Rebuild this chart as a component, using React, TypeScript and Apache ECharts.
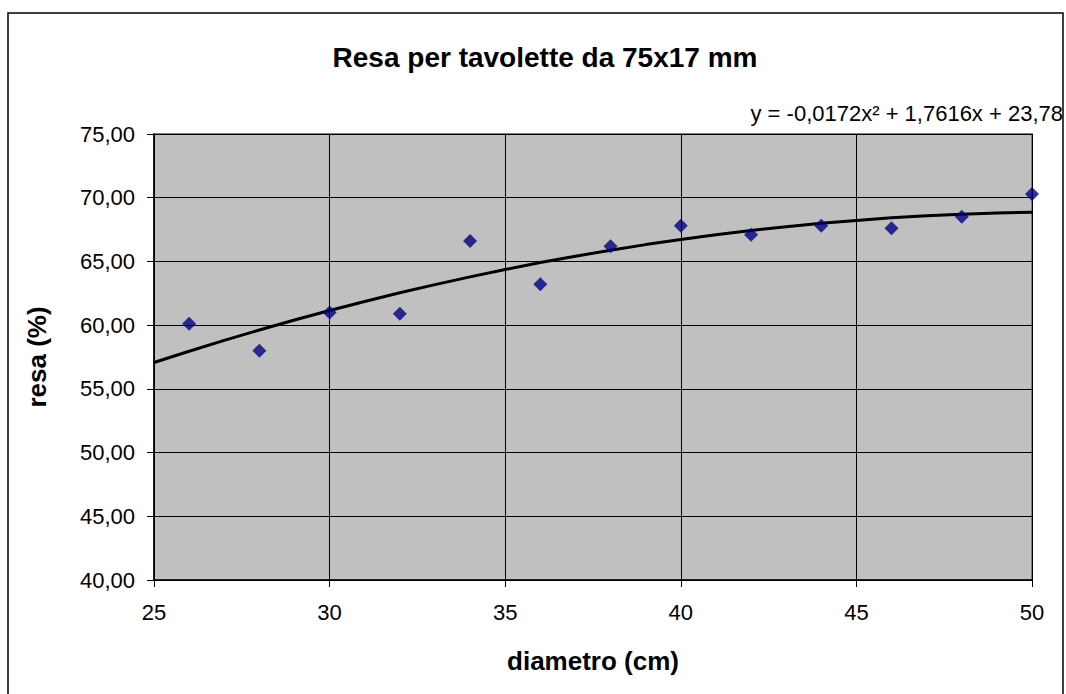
import React, { useEffect, useRef } from "react";
import * as echarts from "echarts";

const diameters = [26, 28, 30, 32, 34, 36, 38, 40, 42, 44, 46, 48, 50];
const resa = [60.1, 58.0, 61.0, 60.9, 66.6, 63.2, 66.2, 67.8, 67.1, 67.8, 67.6, 68.5, 70.3];

const trendX = [25, 26, 27, 28, 29, 30, 31, 32, 33, 34, 35, 36, 37, 38, 39, 40, 41, 42, 43, 44, 45, 46, 47, 48, 49, 50];
const trendY = [57.07, 57.95, 58.8, 59.62, 60.4, 61.15, 61.86, 62.54, 63.18, 63.79, 64.37, 64.91, 65.41, 65.88, 66.32, 66.72, 67.09, 67.43, 67.73, 67.99, 68.22, 68.42, 68.58, 68.71, 68.8, 68.86];

const titleText = "Resa per tavolette da 75x17 mm";
const equationText = "y = -0,0172x² + 1,7616x + 23,78";
const xName = "diametro (cm)";
const yName = "resa (%)";

const FONT = "'Liberation Sans', Arial, sans-serif";

export default function App() {
  const ref = useRef<HTMLDivElement>(null);
  useEffect(() => {
    if (!ref.current) return;
    const chart = echarts.init(ref.current, undefined, { renderer: "svg" });
    chart.setOption({
      animation: false,
      backgroundColor: "#ffffff",
      textStyle: { fontFamily: FONT },
      title: {
        text: titleText,
        left: 540,
        top: 38,
        textAlign: "center",
        textStyle: { fontFamily: FONT, fontSize: 28, fontWeight: "bold", color: "#000" },
      },
      grid: {
        left: 154,
        top: 134,
        right: 34,
        bottom: 114,
        show: true,
        backgroundColor: "#c0c0c0",
        borderColor: "#808080",
        borderWidth: 2,
      },
      xAxis: {
        type: "value",
        min: 25,
        max: 50,
        interval: 5,
        name: xName,
        nameLocation: "middle",
        nameGap: 68,
        nameTextStyle: { fontFamily: FONT, fontSize: 26, fontWeight: "bold", color: "#000" },
        axisLine: { show: true, lineStyle: { color: "#000", width: 1.5 } },
        axisTick: { show: true, length: 7, lineStyle: { color: "#000" } },
        axisLabel: { fontFamily: FONT, fontSize: 22, color: "#000", margin: 21 },
        splitLine: { show: true, lineStyle: { color: "#000", width: 1 } },
      },
      yAxis: {
        type: "value",
        min: 40,
        max: 75,
        interval: 5,
        name: yName,
        nameLocation: "middle",
        nameGap: 104,
        nameTextStyle: { fontFamily: FONT, fontSize: 26, fontWeight: "bold", color: "#000" },
        axisLine: { show: true, lineStyle: { color: "#000", width: 1.5 } },
        axisTick: { show: true, length: 7, lineStyle: { color: "#000" } },
        axisLabel: {
          fontFamily: FONT,
          fontSize: 22,
          color: "#000",
          margin: 19,
          formatter: (v: number) => v.toFixed(2).replace(".", ","),
        },
        splitLine: { show: true, lineStyle: { color: "#000", width: 1 } },
      },
      graphic: [
        {
          type: "rect",
          shape: { x: 8, y: 13, width: 1055, height: 700 },
          style: { fill: "none", stroke: "#000", lineWidth: 1.5 },
          silent: true,
        },
        {
          type: "text",
          right: 3,
          top: 102,
          style: {
            text: equationText,
            fontFamily: FONT,
            fontSize: 22,
            fill: "#000",
          },
        },
      ],
      series: [
        {
          type: "line",
          data: trendX.map((x, i) => [x, trendY[i]]),
          showSymbol: false,
          symbol: "none",
          lineStyle: { color: "#000", width: 3 },
          z: 2,
        },
        {
          type: "scatter",
          data: diameters.map((x, i) => [x, resa[i]]),
          symbol: "diamond",
          symbolSize: 14,
          itemStyle: { color: "#000080" },
          z: 3,
        },
      ],
    });
    return () => chart.dispose();
  }, []);
  return (
    <div
      ref={ref}
      style={{ position: "fixed", left: 0, top: 0, width: 1066, height: 694 }}
    />
  );
}
